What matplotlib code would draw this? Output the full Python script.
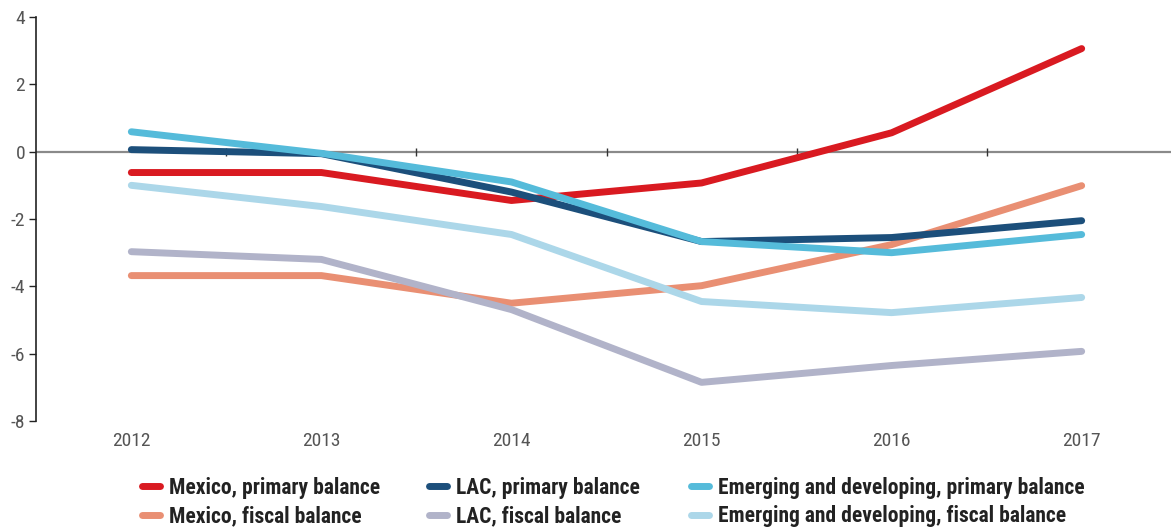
import matplotlib.pyplot as plt
from matplotlib.lines import Line2D

years = ["2012", "2013", "2014", "2015", "2016", "2017"]

mexico_primary = [-0.62, -0.62, -1.45, -0.93, 0.56, 3.06]
mexico_fiscal = [-3.68, -3.68, -4.50, -3.98, -2.76, -1.01]
lac_primary = [0.06, -0.06, -1.20, -2.67, -2.55, -2.05]
lac_fiscal = [-2.97, -3.20, -4.69, -6.85, -6.35, -5.93]
em_primary = [0.59, -0.05, -0.90, -2.67, -3.00, -2.46]
em_fiscal = [-1.00, -1.63, -2.46, -4.45, -4.78, -4.33]

series = [
    ("Mexico, fiscal balance", mexico_fiscal, "#e98f73"),
    ("LAC, fiscal balance", lac_fiscal, "#b1b3c9"),
    ("Emerging and developing, fiscal balance", em_fiscal, "#acd7e9"),
    ("Mexico, primary balance", mexico_primary, "#d91a21"),
    ("LAC, primary balance", lac_primary, "#1c4f7b"),
    ("Emerging and developing, primary balance", em_primary, "#55bbda"),
]
# legend columns: (left edge in px, entries)
legend_cols = [
    (138, ["Mexico, primary balance", "Mexico, fiscal balance"]),
    (425, ["LAC, primary balance", "LAC, fiscal balance"]),
    (687, ["Emerging and developing, primary balance",
           "Emerging and developing, fiscal balance"]),
]

plt.rcParams["font.family"] = ["Roboto Condensed", "Roboto", "DejaVu Sans"]
plt.rcParams["axes.unicode_minus"] = False

W, H = 1171, 529
fig = plt.figure(figsize=(W / 100, H / 100), dpi=100)
ax = fig.add_axes([0.031, 0.204, 0.969, 0.764])

x = list(range(len(years)))
colors = {}
for name, vals, col in series:
    ax.plot(x, vals, color=col, linewidth=5, solid_capstyle="round",
            solid_joinstyle="round", zorder=3)
    colors[name] = col

# zero line with category boundary ticks
ax.axhline(0, color="#8a8a8a", linewidth=1.6, zorder=2)
bounds = [i + 0.5 for i in range(len(years) - 1)]
ax.plot(bounds, [0] * len(bounds), linestyle="none", marker="|",
        markersize=6, color="#333333", markeredgewidth=1, zorder=2)

ax.set_xlim(-0.5, 5.47)
ax.set_ylim(-8, 4)
ax.set_yticks(range(-8, 5, 2))
ax.set_xticks(x)
ax.set_xticklabels(years)
for s in ["top", "right", "bottom"]:
    ax.spines[s].set_visible(False)
ax.spines["left"].set_color("#222222")
ax.spines["left"].set_linewidth(1.2)
ax.tick_params(axis="y", length=5, width=1, color="#222222",
               labelsize=14, labelcolor="#555555", pad=3)
ax.tick_params(axis="x", length=0, labelsize=14, labelcolor="#555555", pad=8)

for left, names in legend_cols:
    handles = [Line2D([0], [0], color=colors[n], linewidth=5, solid_capstyle="round")
               for n in names]
    leg = fig.legend(handles, names, loc="center left",
                     bbox_to_anchor=((left + 3.5) / W, 1 - 502 / H),
                     frameon=False, borderpad=0, borderaxespad=0,
                     handlelength=0.85, handletextpad=0.42, labelspacing=0.3,
                     prop={"family": ["Roboto Condensed", "Roboto"],
                           "weight": "bold", "size": 15.5})
    for t in leg.get_texts():
        t.set_color("#222222")

fig.savefig("out.png", dpi=100)
